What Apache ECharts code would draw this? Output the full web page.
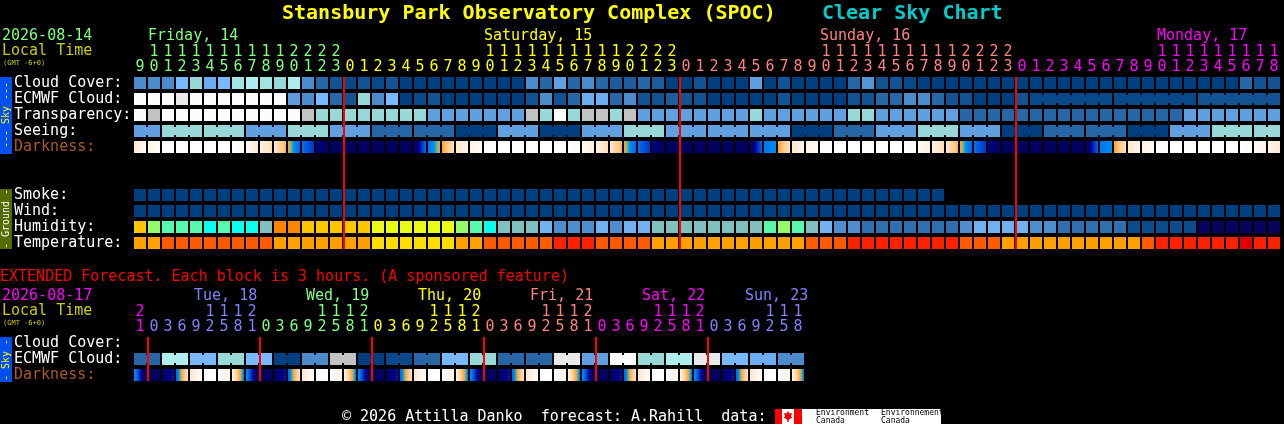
<!DOCTYPE html>
<html><head><meta charset="utf-8">
<style>html,body{margin:0;padding:0;background:#000;overflow:hidden}#c{width:1284px;height:424px}</style>
<script src="https://cdn.jsdelivr.net/npm/echarts@6/dist/echarts.min.js"></script>
</head><body><div id="c"></div>
<script>
// ---------- data ----------
const mainHours = [9,10,11,12,13,14,15,16,17,18,19,20,21,22,23,0,1,2,3,4,5,6,7,8,9,10,11,12,13,14,15,16,17,18,19,20,21,22,23,0,1,2,3,4,5,6,7,8,9,10,11,12,13,14,15,16,17,18,19,20,21,22,23,0,1,2,3,4,5,6,7,8,9,10,11,12,13,14,15,16,17,18];
const extHours = [21,0,3,6,9,12,15,18,21,0,3,6,9,12,15,18,21,0,3,6,9,12,15,18,21,0,3,6,9,12,15,18,21,0,3,6,9,12,15,18,21,0,3,6,9,12,15,18];
const mainRowNames = ['Cloud Cover:','ECMWF Cloud:','Transparency:','Seeing:','Darkness:','','','Smoke:','Wind:','Humidity:','Temperature:'];
const extRowNames = ['Cloud Cover:','ECMWF Cloud:','Darkness:'];
// sky classes on a 0..100 scale (dark blue .. white)
const cloudCover = [30,30,30,50,60,45,50,65,70,65,60,70,30,20,10,5,10,5,10,0,0,0,0,0,0,0,0,0,30,20,40,20,30,20,15,15,20,15,0,0,10,0,0,0,40,0,10,0,0,0,0,20,35,10,10,5,0,0,0,0,0,0,0,0,0,0,0,0,0,0,0,0,0,0,0,0,0,0,0,20,10,10];
const ecmwfCloud = [100,100,100,90,100,100,100,100,100,100,100,38,30,50,20,10,60,30,50,0,5,10,0,0,0,0,0,0,10,30,10,20,45,45,20,30,10,10,15,10,10,0,0,0,0,0,10,0,0,0,0,10,10,20,20,30,30,20,10,10,0,0,0,10,5,5,5,5,5,5,5,5,5,5,5,5,10,10,10,10,10,10];
const ecmwfRuns = [[64,69],[70,75],[76,81]];
const transparency = [100,80,100,100,100,100,100,100,100,100,100,100,80,60,60,60,60,60,60,60,60,40,40,40,40,40,40,40,80,60,100,60,80,80,60,80,40,40,40,40,40,40,40,40,60,40,40,40,40,40,40,60,60,40,40,40,40,40,40,20,20,20,20,20,20,20,20,20,20,20,20,20,20,20,20,40,40,40,40,40,40,40];
const seeingBlockSizes = [2,3,3,3,3,3,3,3,3,3,3,3,3,3,3,3,3,3,3,3,3,3,3,3,3,3,3,2];
const seeingBlocks = [40,60,60,40,60,40,20,20,0,40,0,40,60,40,40,40,0,20,40,60,40,0,20,20,0,40,60,60];
const smoke = [0,0,0,0,0,0,0,0,0,0,0,0,0,0,0,0,0,0,0,0,0,0,0,0,0,0,0,0,0,0,0,0,0,0,0,0,0,0,0,0,0,0,0,0,0,0,0,0,0,0,0,0,0,0,0,0,0,0];
const wind = [0,0,0,0,0,0,0,0,0,0,0,0,0,0,0,0,0,0,0,0,0,0,0,0,0,0,0,0,0,0,0,0,0,0,0,0,0,0,0,0,0,0,0,0,0,0,0,0,0,0,0,0,0,0,0,0,0,0,0,0,0,0,0,0,0,0,0,0,0,0,0,0,0,0,0,0,0,0,0,0,0,0];
const humidity = [72,62,57,57,57,52,57,52,52,47,77,77,72,72,72,72,72,67,67,67,67,67,67,62,57,52,47,47,47,42,37,37,37,42,37,42,42,47,47,47,47,47,47,47,47,57,62,57,47,42,37,37,32,32,32,32,32,32,32,37,42,42,42,42,37,37,32,32,32,32,32,27,27,27,27,27,22,22,22,22,22,22];
const tempClass = [2,2,3,3,3,3,3,3,3,3,2,2,2,2,2,2,2,1,1,1,1,1,1,2,2,3,3,3,3,3,4,4,4,3,3,3,3,2,2,2,2,2,2,2,2,2,2,2,3,3,3,4,4,4,4,4,4,4,4,3,3,3,2,2,2,2,2,2,2,2,2,2,3,4,4,4,4,4,4,5,4,4];
const darkLeft  = [.15,.08,0,0,0,0,0,0,.02,.08,.14,.40,.60,.85,1,1,1,1,1,1,.95,.58,.40,.15,.08,.03,0,0,0,0,0,0,.02,.08,.14,.40,.60,.85,1,1,1,1,1,1,.95,.58,.40,.15,.08,.03,0,0,0,0,0,0,.02,.08,.14,.40,.60,.85,1,1,1,1,1,1,.95,.58,.40,.15,.08,.03,0,0,0,0,0,0,.02,.06];
const darkRight = [.03,.02,0,0,0,0,0,.03,.14,.20,.36,.62,.72,.92,1,1,1,1,1,1,.60,.42,.18,.07,.03,0,0,0,0,0,0,.03,.10,.20,.36,.62,.72,.92,1,1,1,1,1,1,.62,.52,.18,.07,.03,0,0,0,0,0,0,.03,.10,.20,.36,.62,.72,.92,1,1,1,1,1,1,.62,.52,.18,.07,.03,0,0,0,0,0,0,.03,.08,.14];
const mainDayStarts = [15,39,63];
const extCloudBlocks = [20,70,50,60,50,0,30,80,0,5,20,50,60,20,20,90,40,100,60,70,90,50,45,30];
const extDarkLeft  = [.50,1,1,.62,.15,0,0,.08,.50,1,1,.62,.15,0,0,.08,.50,1,1,.62,.15,0,0,.08,.50,1,1,.62,.15,0,0,.08,.50,1,1,.62,.15,0,0,.08,.50,1,1,.62,.15,0,0,.08];
const extDarkRight = [1,1,.75,.15,.02,0,.08,.55,1,1,.75,.15,.02,0,.08,.55,1,1,.75,.15,.02,0,.08,.55,1,1,.75,.15,.02,0,.08,.55,1,1,.75,.15,.02,0,.08,.55,1,1,.75,.15,.02,0,.08,.55];
const extDayStarts = [1,9,17,25,33,41];

// ---------- styles ----------
const MONO = '"DejaVu Sans Mono"';
const SKY = ['#003F7F','#135393','#2767A7','#4C8CCC','#60A0E0','#78B8FF','#98D8D8','#AEEEEE','#C2C2C2','#E9E9E9','#FCFCFC'];
const HUM = [[25,'#08035D'],[30,'#0D4D8D'],[35,'#3070B0'],[40,'#4E8ECE'],[45,'#71B1F1'],[50,'#80C0C0'],[55,'#09FEED'],[60,'#55FAAD'],[65,'#94FE6A'],[70,'#EAFB16'],[75,'#FEC600'],[80,'#FC8602']];
const TEMP = ['#FFFF00','#FFDD00','#FF9F00','#FF5A00','#FF2000','#E00000'];
const RAMP = [[0,'#FFFFFF'],[.05,'#FFF8F0'],[.15,'#FFE8CC'],[.3,'#FFC888'],[.4,'#FFA030'],[.45,'#90B870'],[.5,'#0090F0'],[.6,'#0070F0'],[.7,'#0040D0'],[.8,'#000090'],[.9,'#000070'],[1,'#000060']];
function hex(c){return [1,3,5].map(i=>parseInt(c.substr(i,2),16));}
function mix(a,b,t){const A=hex(a),B=hex(b);return 'rgb('+A.map((v,i)=>Math.round(v+(B[i]-v)*t)).join(',')+')';}
function skyColor(v){const p=v/10,i=Math.min(9,Math.floor(p));return mix(SKY[i],SKY[i+1],p-i);}
function humColor(v){for(const h of HUM){if(v<h[0])return h[1];}return '#FE3401';}
function rampColor(d){for(let i=1;i<RAMP.length;i++){if(d<=RAMP[i][0]){const a=RAMP[i-1],b=RAMP[i];return mix(a[1],b[1],(d-a[0])/(b[0]-a[0]));}}return RAMP[RAMP.length-1][1];}
const GREEN='#80FF80',YEL='#FFFF00',SAL='#FF8080',MAG='#FF00FF',PER='#8080FF';
function mainColColor(i){return i<15?GREEN:i<39?YEL:i<63?SAL:MAG;}
function extColColor(i){return [MAG,PER,GREEN,YEL,SAL,MAG,PER][i===0?0:Math.floor((i-1)/8)+1];}
const rowColor = n => n==='Darkness:'?'#A85A2A':'#FFFFFF';

// ---------- expand blocks to columns ----------
function expand(sizes,vals){const out=[],join=[];sizes.forEach((s,k)=>{for(let j=0;j<s;j++){out.push(vals[k]);join.push(j<s-1);}});return {out,join};}
const seeing = expand(seeingBlockSizes,seeingBlocks);
const extCloud = expand(extCloudBlocks.map(()=>2),extCloudBlocks);
const ecmwfJoin = ecmwfCloud.map((_,i)=>ecmwfRuns.some(r=>i>=r[0]&&i<r[1]));

// ---------- series ----------
function cellSeries(name,vals,row,colorFn,join,xi,yi){
  return {type:'custom',name,xAxisIndex:xi,yAxisIndex:yi,silent:true,clip:false,z:2,
    encode:{x:0,y:1},data:vals.map((v,i)=>[i,row,v]),
    renderItem(params,api){
      const i=params.dataIndex,c=api.coord([i,row]),s=api.size([1,1]);
      const w=s[0]-2,h=s[1]-4,fill=colorFn(vals[i]),kids=[
        {type:'rect',shape:{x:c[0]-w/2,y:c[1]-h/2,width:w,height:h},style:{fill}}];
      if(join&&join[i])kids.push({type:'rect',shape:{x:c[0]+w/2,y:c[1]-h/2+2,width:2,height:h-4},style:{fill}});
      return {type:'group',children:kids};
    }};
}
function darkSeries(left,right,row,xi,yi){
  return {type:'custom',name:'Darkness',xAxisIndex:xi,yAxisIndex:yi,silent:true,clip:false,z:2,
    encode:{x:0,y:1},data:left.map((v,i)=>[i,row,v,right[i]]),
    renderItem(params,api){
      const i=params.dataIndex,c=api.coord([i,row]),s=api.size([1,1]),w=s[0]-2,h=s[1]-4,stops=[];
      for(let k=0;k<=12;k++){stops.push({offset:k/12,color:rampColor(left[i]+(right[i]-left[i])*k/12)});}
      return {type:'rect',shape:{x:c[0]-w/2,y:c[1]-h/2,width:w,height:h},
        style:{fill:new echarts.graphic.LinearGradient(0,0,1,0,stops)}};
    }};
}
function lineSeries(cols,lastRow,xi,yi){
  return {type:'custom',name:'Midnight',xAxisIndex:xi,yAxisIndex:yi,silent:true,clip:false,z:5,
    encode:{x:0,y:1},data:cols.map(c=>[c,0]),
    renderItem(params,api){
      const col=cols[params.dataIndex],a=api.coord([col,0]),b=api.coord([col,lastRow]),s=api.size([1,1]);
      return {type:'rect',shape:{x:a[0]-s[0]/2,y:a[1]-s[1]/2+2,width:2,height:b[1]-a[1]+s[1]-4},style:{fill:'#FF0000'}};
    }};
}
function xAx(grid,data,colorFn,offset){
  return {type:'category',gridIndex:grid,position:'top',offset,data,
    axisLine:{show:false},axisTick:{show:false},splitLine:{show:false},
    axisLabel:{show:true,interval:0,margin:0,hideOverlap:false,fontFamily:MONO,fontSize:15,
      color:(v,i)=>colorFn(i)}};
}
function yAx(grid,names){
  return {type:'category',gridIndex:grid,inverse:true,data:names,
    axisLine:{show:false},axisTick:{show:false},splitLine:{show:false},
    axisLabel:{show:true,interval:0,margin:119,align:'left',hideOverlap:false,fontFamily:MONO,fontSize:15,
      color:(v,i)=>rowColor(names[i])}};
}
const ones = h => String(h%10), tens = h => h>=10?String(Math.floor(h/10)):'';

// ---------- text / decoration ----------
const T=(text,x,y,fill,size,weight)=>({type:'text',silent:true,z:10,style:{text,x,y:y+1.5,fill,
  font:(weight?weight+' ':'')+size+'px '+MONO,textAlign:'left',textVerticalAlign:'middle'}});
const V=(text,x,y,fill)=>({type:'text',silent:true,z:10,x,y,rotation:Math.PI/2,style:{text,x:0,y:0,fill,
  font:'10px '+MONO,textAlign:'center',textVerticalAlign:'middle'}});
const R=(x,y,w,h,fill)=>({type:'rect',silent:true,z:9,shape:{x,y,width:w,height:h},style:{fill}});
const graphic=[
  T('Stansbury Park Observatory Complex (SPOC)',282,12,'#FFFF00',20,'bold'),
  T('Clear Sky Chart',822,12,'#00CCCC',20,'bold'),
  T('2026-08-14',2,35,GREEN,15),T('Local Time',2,50,'#CCCC00',15),T('(GMT -6+0)',3,62,'#CCCC00',7),
  T('Friday, 14',148,35,GREEN,15),T('Saturday, 15',484,35,YEL,15),T('Sunday, 16',820,35,SAL,15),T('Monday, 17',1157,35,MAG,15),
  R(0,77,12,77,'#0050F0'),V('--- Sky ---',6,115,'#FFFF00'),
  R(0,189,12,60,'#556B00'),V('- Ground -',6,219,'#FFFFFF'),
  T('EXTENDED Forecast. Each block is 3 hours. (A sponsored feature)',0,276,'#FF0000',15),
  T('2026-08-17',2,295,MAG,15),T('Local Time',2,310,'#CCCC00',15),T('(GMT -6+0)',3,322,'#CCCC00',7),
  T('Tue, 18',194,295,PER,15),T('Wed, 19',306,295,GREEN,15),T('Thu, 20',418,295,YEL,15),T('Fri, 21',530,295,SAL,15),T('Sat, 22',642,295,MAG,15),T('Sun, 23',745,295,PER,15),
  R(0,337,12,45,'#0050F0'),V('- Sky -',6,360,'#FFFF00'),
  T('\u00A9 2026 Attilla Danko  forecast: A.Rahill  data:',342,416,'#FFFFFF',15),
  R(775,409,166,15,'#FFFFFF'),R(775,409,7,15,'#FF0000'),R(794,409,8,15,'#FF0000'),
  {type:'polygon',silent:true,z:10,shape:{points:[[788,411],[789.5,413.5],[792,413],[791,416.5],[792.5,417.5],[789,419.5],[788.5,422],[787.5,422],[787,419.5],[783.5,417.5],[785,416.5],[784,413],[786.5,413.5]]},style:{fill:'#FF0000'}},
  T('Environment',816,411,'#000000',8),T('Canada',816,419,'#000000',8),
  T('Environnement',881,411,'#000000',8),T('Canada',881,419,'#000000',8)
];

const option={
  backgroundColor:'#000000',animation:false,tooltip:{show:false},legend:{show:false},
  grid:[{left:133,top:75,width:1148,height:176},{left:133,top:335,width:672,height:48}],
  xAxis:[xAx(0,mainHours.map(ones),mainColColor,0),xAx(0,mainHours.map(tens),mainColColor,15),
         xAx(1,extHours.map(ones),extColColor,0),xAx(1,extHours.map(tens),extColColor,15)],
  yAxis:[yAx(0,mainRowNames),yAx(1,extRowNames)],
  graphic,
  series:[
    cellSeries('Cloud Cover',cloudCover,0,skyColor,null,0,0),
    cellSeries('ECMWF Cloud',ecmwfCloud,1,skyColor,ecmwfJoin,0,0),
    cellSeries('Transparency',transparency,2,skyColor,null,0,0),
    cellSeries('Seeing',seeing.out,3,skyColor,seeing.join,0,0),
    darkSeries(darkLeft,darkRight,4,0,0),
    cellSeries('Smoke',smoke,7,skyColor,null,0,0),
    cellSeries('Wind',wind,8,skyColor,null,0,0),
    cellSeries('Humidity',humidity,9,humColor,null,0,0),
    cellSeries('Temperature',tempClass,10,v=>TEMP[v],null,0,0),
    lineSeries(mainDayStarts,10,0,0),
    cellSeries('Ext ECMWF Cloud',extCloud.out,1,skyColor,extCloud.join,2,1),
    darkSeries(extDarkLeft,extDarkRight,2,2,1),
    lineSeries(extDayStarts,2,2,1)
  ]
};
const chart=echarts.init(document.getElementById('c'),null,{renderer:'canvas',width:1284,height:424});
chart.setOption(option);
</script></body></html>
